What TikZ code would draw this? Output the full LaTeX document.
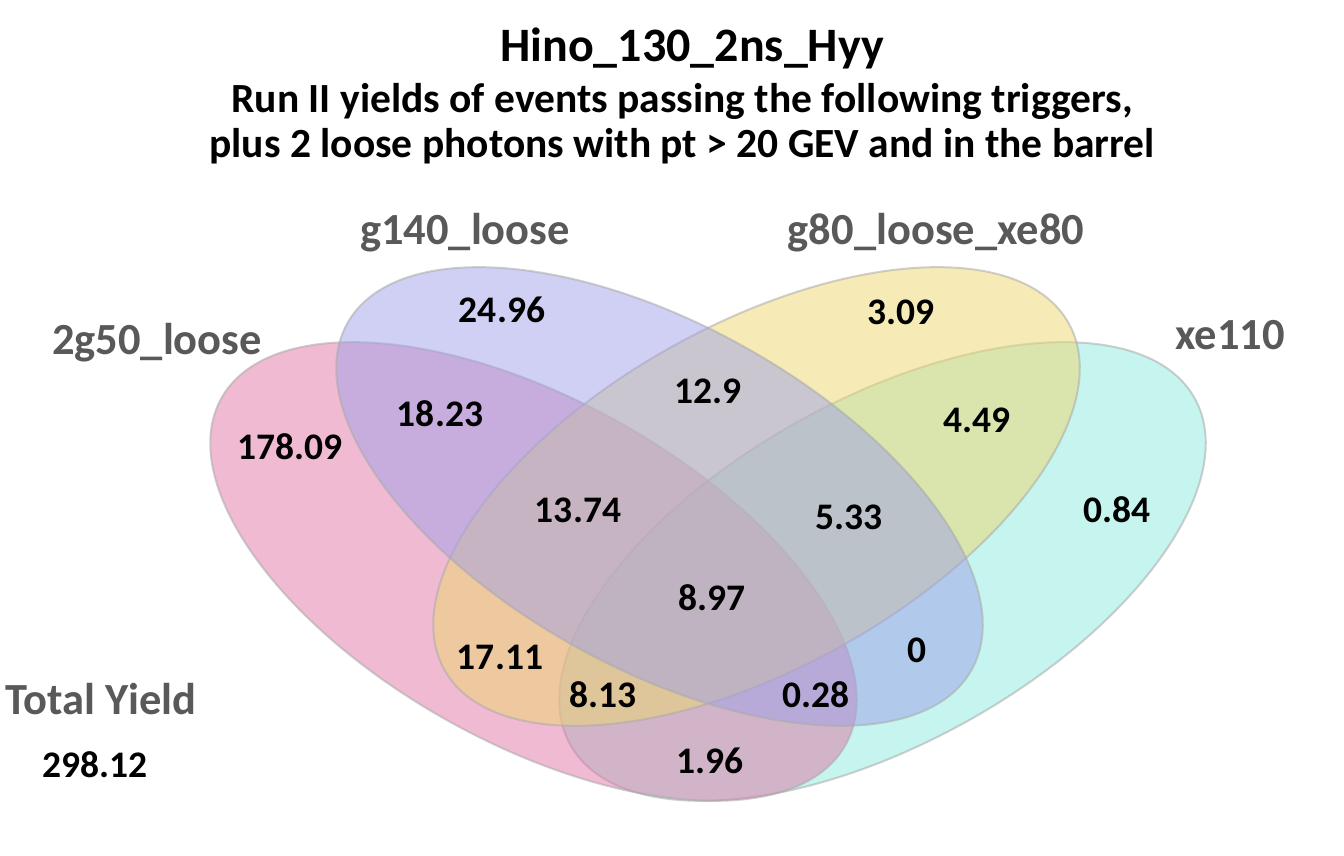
\documentclass[tikz,border=0pt]{standalone}
\usepackage{fontspec}
\setmainfont{Carlito}
\usepackage{xcolor}
\usepackage{tikz}
\definecolor{vpink}{RGB}{223,117,165}
\definecolor{vblue}{RGB}{159,161,233}
\definecolor{vyellow}{RGB}{237,215,109}
\definecolor{vcyan}{RGB}{139,235,221}
\definecolor{rimc}{RGB}{170,170,170}
\definecolor{lblgray}{RGB}{89,89,89}

\begin{document}
\begin{tikzpicture}[x=0.5pt,y=0.5pt,
    set/.style={fill opacity=0.5,draw opacity=0.55,draw=rimc,line width=1pt},
    num/.style={anchor=base,inner sep=0pt,font=\bfseries\fontsize{18.75}{22}\selectfont},
    lbl/.style={anchor=base,inner sep=0pt,text=lblgray,font=\bfseries\fontsize{22.25}{26}\selectfont},
    ttl/.style={anchor=base,inner sep=0pt,font=\bfseries\fontsize{20.75}{24}\selectfont}]
  \useasboundingbox (0,0) rectangle (1344,856);
  % four sets, back to front
  \draw[set,fill=vcyan,rotate around={29:(882.5,284.5)}] (882.5,284.5) ellipse (357 and 172);
  \draw[set,fill=vpink,rotate around={-29:(533.5,284.5)}] (533.5,284.5) ellipse (357 and 172);
  \draw[set,fill=vyellow,rotate around={29:(756.5,359.5)}] (756.5,359.5) ellipse (357 and 172);
  \draw[set,fill=vblue,rotate around={-29:(659.5,359.5)}] (659.5,359.5) ellipse (357 and 172);
  % heading
  \node[ttl,font=\bfseries\fontsize{24}{28}\selectfont] (title) at (692,794) {Hino\_130\_2ns\_Hyy};
  \node[ttl] (sub1) at (682,743) {Run II yields of events passing the following triggers,};
  \node[ttl] (sub2) at (682,698) {plus 2 loose photons with pt > 20 GEV and in the barrel};
  % set names
  \node[lbl] (s1) at (157,501) {2g50\_loose};
  \node[lbl] (s2) at (465,611) {g140\_loose};
  \node[lbl] (s3) at (936,611) {g80\_loose\_xe80};
  \node[lbl] (s4) at (1230,506) {xe110};
  % region yields
  \node[num] (r2) at (502,533) {24.96};
  \node[num] (r3) at (901,531) {3.09};
  \node[num] (r23) at (708,452) {12.9};
  \node[num] (r12) at (440,429) {18.23};
  \node[num] (r34) at (977,423) {4.49};
  \node[num] (r1) at (290,396) {178.09};
  \node[num] (r123) at (578,333) {13.74};
  \node[num] (r234) at (849,326) {5.33};
  \node[num] (r4) at (1117,333) {0.84};
  \node[num] (r1234) at (712,245) {8.97};
  \node[num] (r13) at (500,186) {17.11};
  \node[num] (r24) at (917,193) {0};
  \node[num] (r134) at (603,148) {8.13};
  \node[num] (r124) at (816,148) {0.28};
  \node[num] (r14) at (710,82) {1.96};
  % total
  \node[lbl] (tot) at (101,141) {Total Yield};
  \node[num] (totv) at (95,78) {298.12};
\end{tikzpicture}
\end{document}
